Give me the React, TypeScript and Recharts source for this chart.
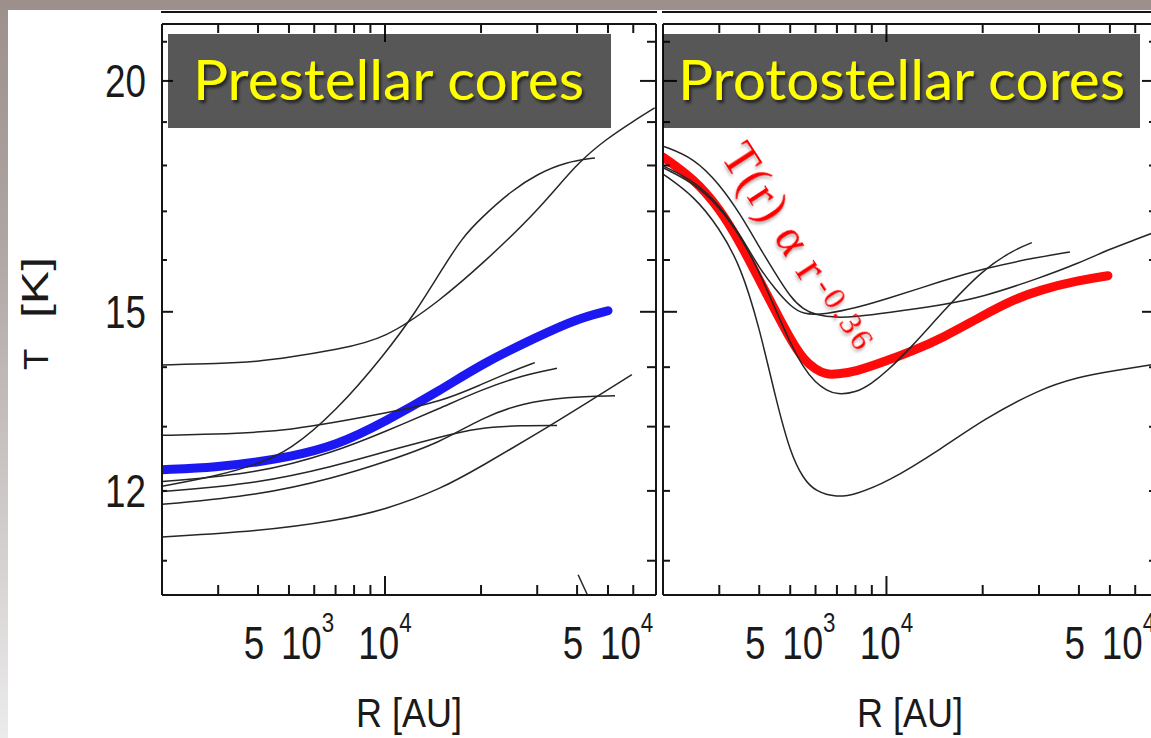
import React from 'react'
import { LineChart, Line, XAxis, YAxis } from 'recharts'

// radius in AU, temperature in K

// prestellar cores
const preMeanR = [2000, 3000, 4000, 5000, 7000, 10000, 15000, 20000, 30000, 40000, 50000]
const preMeanT = [12.32, 12.36, 12.44, 12.52, 12.69, 13.08, 13.61, 14.05, 14.54, 14.87, 15.02]

const preAR = [2000, 3000, 4000, 5000, 7000, 10000, 15000, 20000, 30000, 40000, 50000, 60000, 70000]
const preAT = [14.04, 14.06, 14.10, 14.17, 14.31, 14.49, 15.23, 15.90, 16.99, 18.06, 18.63, 19.02, 19.34]
const preBR = [2000, 3000, 4000, 5000, 7000, 10000, 12500, 15000, 17500, 20000, 25000, 30000, 37000, 45500]
const preBT = [12.07, 12.23, 12.41, 12.61, 13.24, 14.23, 15.00, 15.79, 16.46, 16.86, 17.45, 17.81, 18.08, 18.17]
const preCR = [2000, 3000, 4000, 5000, 7000, 10000, 15000, 20000, 25000, 29500]
const preCT = [12.86, 12.88, 12.91, 12.95, 13.07, 13.22, 13.41, 13.70, 13.93, 14.08]
const preDR = [2000, 4000, 7000, 10000, 15000, 20000, 30000, 40000, 59400]
const preDT = [11.33, 11.41, 11.56, 11.72, 12.03, 12.37, 12.89, 13.29, 13.87]
const preER = [2000, 4000, 7000, 10000, 15000, 20000, 27000, 34600]
const preET = [12.14, 12.26, 12.60, 12.92, 13.31, 13.61, 13.86, 13.98]
const preFR = [2000, 4000, 7000, 10000, 15000, 19400, 27000, 34600]
const preFT = [11.99, 12.11, 12.38, 12.60, 12.84, 12.98, 13.02, 13.02]
const preGR = [2000, 4000, 7000, 10000, 15000, 20000, 27000, 37000, 52600]
const preGT = [11.80, 11.93, 12.20, 12.44, 12.75, 13.14, 13.39, 13.49, 13.51]
const preHR = [40300, 43000]
const preHT = [10.81, 10.55]

// protostellar cores
const proMeanR = [2000, 2500, 3000, 3500, 4000, 4500, 5000, 5500, 6000, 6500, 7000, 8000, 10000, 12000, 15000, 20000, 25000, 30000, 40000, 49300]
const proMeanT = [18.19, 17.70, 17.07, 16.33, 15.61, 15.01, 14.50, 14.13, 13.96, 13.87, 13.88, 13.92, 14.11, 14.28, 14.52, 14.93, 15.23, 15.41, 15.60, 15.69]

const proAR = [2000, 2500, 3000, 3500, 4000, 4500, 5000, 5500, 6000, 7000, 8000, 10000, 15000, 20000, 30000, 40000, 50000, 60000, 70700]
const proAT = [18.44, 18.17, 17.59, 16.93, 16.26, 15.73, 15.28, 15.04, 14.94, 14.89, 14.91, 14.98, 15.13, 15.28, 15.64, 15.94, 16.22, 16.41, 16.59]
const proBR = [2000, 2500, 3000, 3500, 4000, 4500, 5000, 5500, 6500, 8000, 10000, 15000, 20000, 30000, 37500]
const proBT = [17.99, 17.66, 17.14, 16.49, 15.84, 15.42, 15.11, 14.94, 14.96, 15.07, 15.24, 15.59, 15.83, 16.06, 16.16]
const proCR = [2000, 2500, 3000, 3500, 4000, 4500, 5000, 5500, 6000, 6500, 7000, 8000, 9000, 10000, 12000, 15000, 20000, 25000, 28500]
const proCT = [17.95, 17.61, 17.10, 16.47, 15.77, 15.04, 14.43, 13.99, 13.73, 13.60, 13.53, 13.56, 13.72, 13.92, 14.36, 15.00, 15.81, 16.20, 16.35]
const proDR = [2000, 2500, 3000, 3500, 4000, 4500, 5000, 5500, 6000, 7000, 8000, 10000, 15000, 20000, 30000, 40000, 50000, 70700]
const proDT = [17.81, 17.33, 16.65, 15.88, 14.72, 13.47, 12.58, 12.18, 11.99, 11.90, 11.95, 12.12, 12.66, 13.11, 13.62, 13.83, 13.93, 14.06]

// axes
const R_DOMAIN = [2000, 70700]
const T_DOMAIN = [10.54, 21.47]
const X_TICKS = [3000, 4000, 5000, 6000, 7000, 8000, 9000, 10000, 20000, 30000, 40000, 50000, 60000]
const X_LABELS: Record<number, string[]> = { 5000: ['5', '10', '3'], 10000: ['', '10', '4'], 50000: ['5', '10', '4'] }
const Y_TICKS = [11, 12, 13, 14, 15, 16, 17, 18, 19, 20, 21]
const Y_LABELS = [12, 15, 20]
const Y_MAJOR = [15, 20]

const INK = '#151515'
const AXIS = { stroke: INK, strokeWidth: 2 }
const SANS = '"Liberation Sans", Arial, sans-serif'
const SERIF = '"Liberation Serif", "Times New Roman", serif'

const pts = (R: number[], T: number[]) => R.map((r, i) => ({ r, t: T[i] }))

function BottomTick({ x, y, payload }: any) {
  const v = payload.value
  const lab = X_LABELS[v]
  return (
    <g>
      <line x1={x} x2={x} y1={y} y2={y - (v === 10000 ? 19 : 10)} stroke={INK} strokeWidth={2} />
      {lab && (
        <g transform={`translate(${x},${y + 64}) scale(0.8,1)`}>
          <text textAnchor="middle" fontFamily={SANS} fontSize={46} fill="#1a1a1a">
            {lab[0] && <tspan>{lab[0]}</tspan>}
            <tspan dx={lab[0] ? 21 : 0}>{lab[1]}</tspan>
            <tspan dy={-27} fontSize={28}>{lab[2]}</tspan>
          </text>
        </g>
      )}
    </g>
  )
}

function TopTick({ x, y, payload }: any) {
  return <line x1={x} x2={x} y1={y} y2={y + (payload.value === 10000 ? 18 : 9)} stroke={INK} strokeWidth={2} />
}

function LeftTick({ x, y, payload, labels, long, short }: any) {
  const v = payload.value
  return (
    <g>
      <line x1={x} x2={x + (Y_MAJOR.includes(v) ? long : short)} y1={y} y2={y} stroke={INK} strokeWidth={2} />
      {labels && Y_LABELS.includes(v) && (
        <g transform={`translate(${x - 16},${y + 16.5}) scale(0.8,1)`}>
          <text textAnchor="end" fontFamily={SANS} fontSize={46} fill="#1a1a1a">{v}</text>
        </g>
      )}
    </g>
  )
}

function RightTick({ x, y, payload }: any) {
  const v = payload.value
  return <line x1={x - (Y_MAJOR.includes(v) ? 16 : 9)} x2={x} y1={y} y2={y} stroke={INK} strokeWidth={2} />
}

interface PanelProps {
  left: number
  width: number
  marginLeft: number
  marginRight: number
  yWidth: number
  labels: boolean
  mean: { r: number; t: number }[]
  color: string
  curves: { r: number; t: number }[][]
}

function Panel({ left, width, marginLeft, marginRight, yWidth, labels, mean, color, curves }: PanelProps) {
  const tickLong = labels ? 11 : 14
  const tickShort = labels ? 5 : 7
  return (
    <div style={{ position: 'absolute', left, top: 0 }}>
      <LineChart width={width} height={738} margin={{ top: 4, right: marginRight, bottom: 3, left: marginLeft }}>
        <XAxis dataKey="r" type="number" scale="log" domain={R_DOMAIN} allowDataOverflow ticks={X_TICKS}
          interval={0} height={140} tickSize={0} tickMargin={0} tickLine={false} axisLine={AXIS}
          tick={(p: any) => <BottomTick {...p} />} />
        <XAxis xAxisId="top" orientation="top" dataKey="r" type="number" scale="log" domain={R_DOMAIN}
          allowDataOverflow ticks={X_TICKS} interval={0} height={20} tickSize={0} tickMargin={0}
          tickLine={false} axisLine={AXIS} tick={(p: any) => <TopTick {...p} />} />
        <YAxis dataKey="t" type="number" scale="log" domain={T_DOMAIN} allowDataOverflow ticks={Y_TICKS}
          interval={0} width={yWidth} tickSize={0} tickMargin={0} tickLine={false} axisLine={AXIS}
          tick={(p: any) => <LeftTick {...p} labels={labels} long={tickLong} short={tickShort} />} />
        <YAxis yAxisId="right" orientation="right" dataKey="t" type="number" scale="log" domain={T_DOMAIN}
          allowDataOverflow ticks={Y_TICKS} interval={0} width={40} tickSize={0} tickMargin={0}
          tickLine={false} axisLine={AXIS} tick={(p: any) => <RightTick {...p} />} />
        <Line data={mean} dataKey="t" type="basis" stroke={color} strokeWidth={9} strokeLinecap="round"
          dot={false} isAnimationActive={false} />
        {curves.map((c, i) => (
          <Line key={i} data={c} dataKey="t" type="basis" stroke="#262626" strokeWidth={1.5}
            dot={false} isAnimationActive={false} />
        ))}
      </LineChart>
    </div>
  )
}

export default function App() {
  const preCurves = [pts(preAR, preAT), pts(preBR, preBT), pts(preCR, preCT), pts(preDR, preDT),
    pts(preER, preET), pts(preFR, preFT), pts(preGR, preGT), pts(preHR, preHT)]
  const proCurves = [pts(proAR, proAT), pts(proBR, proBT), pts(proCR, proCT), pts(proDR, proDT)]

  return (
    <div style={{
      position: 'fixed', left: 0, top: 0, width: 1151, height: 738, overflow: 'hidden',
      background: 'linear-gradient(#9d908c 0%, #ada3a0 30%, #d0cbcb 70%, #ecebeb 100%)',
    }}>
      <div style={{ position: 'absolute', left: 8, top: 10, right: 0, bottom: 0, background: '#fff' }} />

      <Panel left={0} width={700} marginLeft={62} marginRight={4} yWidth={100} labels
        mean={pts(preMeanR, preMeanT)} color="#1c18f2" curves={preCurves} />
      <Panel left={560} width={640} marginLeft={63} marginRight={2} yWidth={40} labels={false}
        mean={pts(proMeanR, proMeanT)} color="#ff0a0a" curves={proCurves} />

      <svg width={1151} height={738} style={{ position: 'absolute', left: 0, top: 0, pointerEvents: 'none' }}>
        <defs>
          <filter id="shade" x="-10%" y="-20%" width="130%" height="160%">
            <feDropShadow dx="2" dy="3" stdDeviation="1.6" floodColor="#000" floodOpacity="0.6" />
          </filter>
          <filter id="shadeLight" x="-20%" y="-20%" width="140%" height="140%">
            <feDropShadow dx="2" dy="2" stdDeviation="1.5" floodColor="#000" floodOpacity="0.3" />
          </filter>
        </defs>

        {/* bottom edge of the panels above */}
        <line x1={161} x2={657} y1={12} y2={12} stroke={INK} strokeWidth={2} />
        <line x1={662} x2={1151} y1={12} y2={12} stroke={INK} strokeWidth={2} />

        <rect x={168} y={34} width={443} height={94} fill="#000" fillOpacity={0.66} />
        <text x={193} y={100} fontFamily="Lato, 'Open Sans', sans-serif" fontWeight={400} fontSize={57} fill="#ffff00"
          textLength={391} lengthAdjust="spacingAndGlyphs" filter="url(#shade)">Prestellar cores</text>
        <rect x={663} y={34} width={477} height={94} fill="#000" fillOpacity={0.66} />
        <text x={678} y={100} fontFamily="Lato, 'Open Sans', sans-serif" fontWeight={400} fontSize={57} fill="#ffff00"
          textLength={447} lengthAdjust="spacingAndGlyphs" filter="url(#shade)">Protostellar cores</text>

        <g transform="translate(720,156) rotate(57)" filter="url(#shadeLight)">
          <text fontFamily={SERIF} fontSize={48} fill="#ff0000" letterSpacing={1.5}>
            T(r) α r<tspan dx={6} dy={-8} fontSize={32} letterSpacing={3}>-0.36</tspan>
          </text>
        </g>

        <g transform="translate(48,370) rotate(-90)">
          <text fontFamily={SANS} fontSize={35} fill="#1a1a1a">T</text>
        </g>
        <g transform="translate(48,318) rotate(-90) scale(1.35,1)">
          <text fontFamily={SANS} fontSize={37} fill="#1a1a1a">[K]</text>
        </g>
        <g transform="translate(409,727) scale(0.9,1)">
          <text textAnchor="middle" fontFamily={SANS} fontSize={40} fill="#1a1a1a">R [AU]</text>
        </g>
        <g transform="translate(910,727) scale(0.9,1)">
          <text textAnchor="middle" fontFamily={SANS} fontSize={40} fill="#1a1a1a">R [AU]</text>
        </g>
      </svg>
    </div>
  )
}
